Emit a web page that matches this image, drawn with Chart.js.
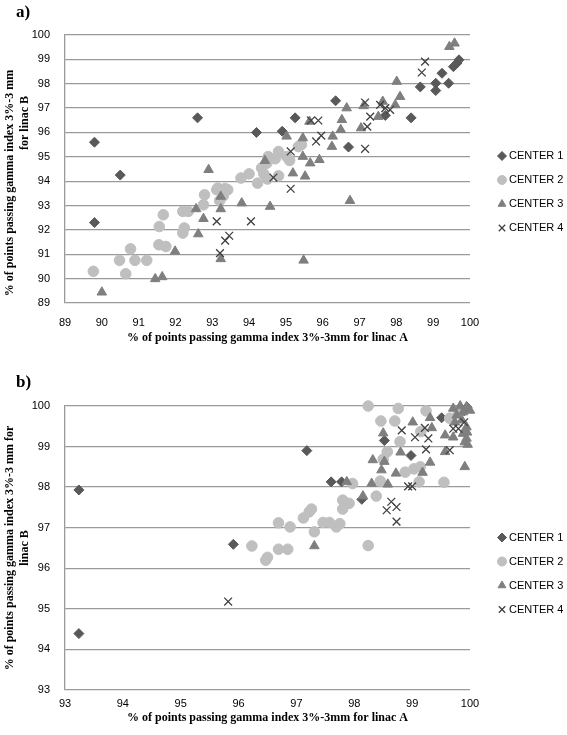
<!DOCTYPE html>
<html>
<head>
<meta charset="utf-8">
<script src="https://cdn.jsdelivr.net/npm/chart.js@4/dist/chart.umd.min.js"></script>
<style>
  body { margin: 0; background: #fff; width: 567px; height: 735px; position: relative; overflow: hidden; }
  .panel { position: absolute; left: 0; width: 567px; }
  .tag { position: absolute; left: 16px; font: bold 17px "Liberation Serif", serif; color: #000; }
</style>
</head>
<body>
<div class="panel" style="top:0;height:355px"><canvas id="chartA" width="567" height="355"></canvas></div>
<div class="panel" style="top:355px;height:380px"><canvas id="chartB" width="567" height="380"></canvas></div>
<div class="tag" style="top:2px">a)</div>
<div class="tag" style="top:372px">b)</div>
<script>
// ---- data: [linac A, linac B] pairs ----
const centerLabels = ['CENTER 1', 'CENTER 2', 'CENTER 3', 'CENTER 4'];

// panel a)
const aCenter1 = [[89.8,95.6],[90.5,94.25],[89.8,92.3],[92.6,96.6],[94.2,96.0],[94.9,96.05],[95.25,96.6],[96.35,97.3],
  [96.7,95.4],[97.7,96.7],[98.4,96.6],[98.65,97.87],[99.07,98.02],[99.24,98.43],[99.07,97.72],[99.42,98.02],
  [99.55,98.7],[99.65,98.85],[99.7,98.98]];
const aCenter2 = [[89.77,90.3],[90.48,90.75],[90.65,90.2],[90.78,91.22],[90.9,90.75],[91.22,90.75],[91.55,91.39],
  [91.74,91.32],[91.56,92.14],[91.67,92.62],[92.2,91.87],[92.24,92.08],[92.2,92.76],[92.35,92.76],[92.76,93.03],
  [92.79,93.44],[93.12,93.65],[93.15,93.72],[93.35,93.7],[93.42,93.65],[93.3,93.4],[93.2,93.2],[93.78,94.13],
  [94.0,94.3],[94.23,93.92],[94.34,94.54],[94.48,94.74],[94.52,95.01],[94.5,94.09],[94.71,94.92],[94.8,95.22],
  [94.8,94.22],[95.02,95.01],[95.1,94.85],[95.34,95.42],[95.42,95.5],[94.4,94.3]];
const aCenter3 = [[90.0,89.44],[91.45,89.99],[91.64,90.07],[91.99,91.12],[92.62,91.83],[92.76,92.46],[92.56,92.86],
  [92.9,94.47],[93.23,92.86],[93.23,93.37],[93.23,90.81],[93.8,93.1],[94.57,92.96],[94.43,94.84],[95.02,95.84],
  [95.19,94.33],[95.46,95.77],[95.46,95.01],[95.52,94.2],[95.48,90.75],[95.64,96.45],[95.66,94.74],[95.91,94.88],
  [96.25,95.42],[96.27,95.84],[96.49,96.11],[96.52,96.52],[96.65,97.0],[96.74,93.2],[97.04,96.18],[97.11,97.09],
  [97.51,96.65],[97.63,97.27],[97.97,97.13],[98.1,97.47],[98.01,98.09],[99.44,99.52],[99.58,99.66]];
const aCenter4 = [[93.12,92.35],[94.05,92.35],[93.35,91.56],[93.46,91.76],[93.21,91.05],[95.13,93.69],[95.13,95.22],
  [94.66,94.15],[95.68,96.49],[95.88,96.49],[95.82,95.63],[95.96,95.87],[97.15,95.33],[97.15,97.23],[97.21,96.24],
  [97.29,96.65],[97.56,97.13],[97.7,97.0],[97.83,96.93],[98.69,98.46],[98.78,98.91]];

// panel b)
const bCenter1 = [[93.24,97.93],[93.24,94.39],[95.91,96.59],[97.18,98.9],[97.6,98.13],[97.78,98.13],[98.13,97.7],
  [98.52,99.15],[98.98,98.78],[99.51,99.71],[99.95,99.97],[99.9,99.88]];
const bCenter2 = [[96.23,96.55],[96.47,96.2],[96.5,96.27],[96.69,96.47],[96.85,96.47],[96.69,97.12],[96.89,97.02],
  [97.12,97.24],[97.22,97.39],[97.26,97.46],[97.31,96.9],[97.46,97.13],[97.57,97.13],[97.69,97.02],[97.75,97.1],
  [97.8,97.68],[97.91,97.6],[97.8,97.46],[98.38,97.78],[98.24,96.56],[99.12,98.13],[99.55,98.12],[98.24,100.0],
  [98.76,99.94],[99.24,99.88],[98.46,99.63],[98.7,99.63],[99.15,99.37],[98.79,99.12],[98.57,98.87],[98.5,98.69],
  [98.88,98.37],[99.03,98.45],[99.14,98.5],[98.45,98.15],[97.97,98.09],[99.65,99.7],[99.8,99.85]];
const bCenter3 = [[97.31,96.55],[98.15,97.78],[97.87,98.13],[98.3,98.09],[98.58,98.07],[99.01,99.6],[99.31,99.71],
  [99.34,99.46],[98.5,99.33],[98.32,98.67],[98.52,98.63],[98.47,98.42],[98.8,98.86],[99.31,98.61],[98.72,98.34],
  [99.18,98.36],[99.57,98.87],[99.91,98.5],[99.71,99.94],[99.83,100.0],[99.94,99.98],[99.77,99.77],[99.88,99.85],
  [100.0,99.89],[99.74,99.6],[99.86,99.65],[99.94,99.48],[99.88,99.32],[99.94,99.2],[99.91,99.11],[99.71,99.23],
  [99.57,99.28],[99.95,99.35],[99.96,99.05]];
const bCenter4 = [[95.82,95.18],[98.64,97.64],[98.56,97.43],[98.73,97.51],[98.73,97.15],[98.93,98.02],[99.0,98.02],
  [98.82,99.4],[99.05,99.23],[99.28,99.2],[99.22,99.46],[99.24,98.93],[99.71,99.44],[99.8,99.44],[99.65,98.91],
  [99.9,99.6]];

const xTitle = '% of points passing gamma index 3%-3mm for linac A';

// marker look per center
const marks = [
  { style: 'rectRot', r: 5, color: '#595959', bw: 1 },
  { style: 'circle', r: 5.3, color: '#bfbfbf', bw: 1 },
  { style: 'triangle', r: 5.5, color: '#7f7f7f', bw: 1 },
  { style: 'crossRot', r: 5.5, color: '#3f3f3f', bw: 1.3 }
];

// legend + rotated y titles drawn at fixed places
const decor = {
  id: 'decor',
  afterDraw(chart, args, o) {
    const ctx = chart.ctx;
    ctx.save();
    chart.data.datasets.forEach((ds, i) => {
      const y = o.legendTop + i * 24;
      ctx.fillStyle = ds.backgroundColor;
      ctx.strokeStyle = ds.borderColor;
      ctx.lineWidth = ds.borderWidth;
      Chart.helpers.drawPoint(ctx, { pointStyle: ds.pointStyle, radius: 4.5, rotation: 0, borderWidth: ds.borderWidth }, 502, y);
      ctx.fillStyle = '#000';
      ctx.font = '11px "Liberation Sans"';
      ctx.textAlign = 'left';
      ctx.textBaseline = 'middle';
      ctx.fillText(ds.label, 509, y);
    });
    ctx.font = 'bold 12px "Liberation Serif"';
    ctx.textAlign = 'center';
    ctx.textBaseline = 'middle';
    o.yTitle.forEach(t => {
      ctx.save();
      ctx.translate(t.x, t.y);
      ctx.rotate(-Math.PI / 2);
      ctx.fillText(t.text, 0, 0);
      ctx.restore();
    });
    ctx.restore();
  }
};

const tickFont = { family: 'Liberation Sans', size: 11 };

function makeChart(id, series, min, max, lay) {
  new Chart(document.getElementById(id), {
    type: 'scatter',
    data: {
      datasets: series.map((pts, i) => ({
        label: centerLabels[i],
        data: pts.map(p => ({ x: p[0], y: p[1] })),
        pointStyle: marks[i].style,
        pointRadius: marks[i].r,
        pointHoverRadius: marks[i].r,
        backgroundColor: marks[i].color,
        borderColor: marks[i].color,
        borderWidth: marks[i].bw,
        order: 4 - i,
        clip: false
      }))
    },
    options: {
      responsive: false,
      animation: false,
      devicePixelRatio: 1,
      layout: { padding: { top: lay.top, right: 97, left: 0, bottom: 0 } },
      scales: {
        x: {
          type: 'linear', min, max,
          ticks: { stepSize: 1, autoSkip: false, padding: lay.xPad, color: '#000', font: tickFont },
          grid: { display: false, drawTicks: false },
          border: { display: false },
          title: { display: true, text: xTitle, color: '#000', padding: { top: 0, bottom: 10 },
                   font: { family: 'Liberation Serif', size: 12, weight: 'bold' } },
          afterFit: s => { s.height = lay.xHeight; }
        },
        y: {
          min, max,
          ticks: { stepSize: 1, padding: 15, color: '#000', font: tickFont },
          grid: { color: '#9a9a9a', lineWidth: 1.3, drawTicks: false },
          border: { display: true, color: '#9a9a9a', width: 1.3 },
          afterFit: s => { s.width = 65; }
        }
      },
      plugins: {
        legend: { display: false },
        tooltip: { enabled: false },
        decor: { legendTop: lay.legendTop, yTitle: lay.yTitle }
      }
    },
    plugins: [decor]
  });
}

makeChart('chartA', [aCenter1, aCenter2, aCenter3, aCenter4], 89, 100, {
  top: 35, xHeight: 52, xPad: 13, legendTop: 156,
  yTitle: [
    { text: '% of points passing gamma index 3%-3 mm', x: 10, y: 183 },
    { text: 'for linac B', x: 25, y: 123 }
  ]
});

makeChart('chartB', [bCenter1, bCenter2, bCenter3, bCenter4], 93, 100, {
  top: 51, xHeight: 45, xPad: 7, legendTop: 182.5,
  yTitle: [
    { text: '% of points passing gamma index 3%-3 mm for', x: 10, y: 193 },
    { text: 'linac B', x: 25, y: 193 }
  ]
});
</script>
</body>
</html>
